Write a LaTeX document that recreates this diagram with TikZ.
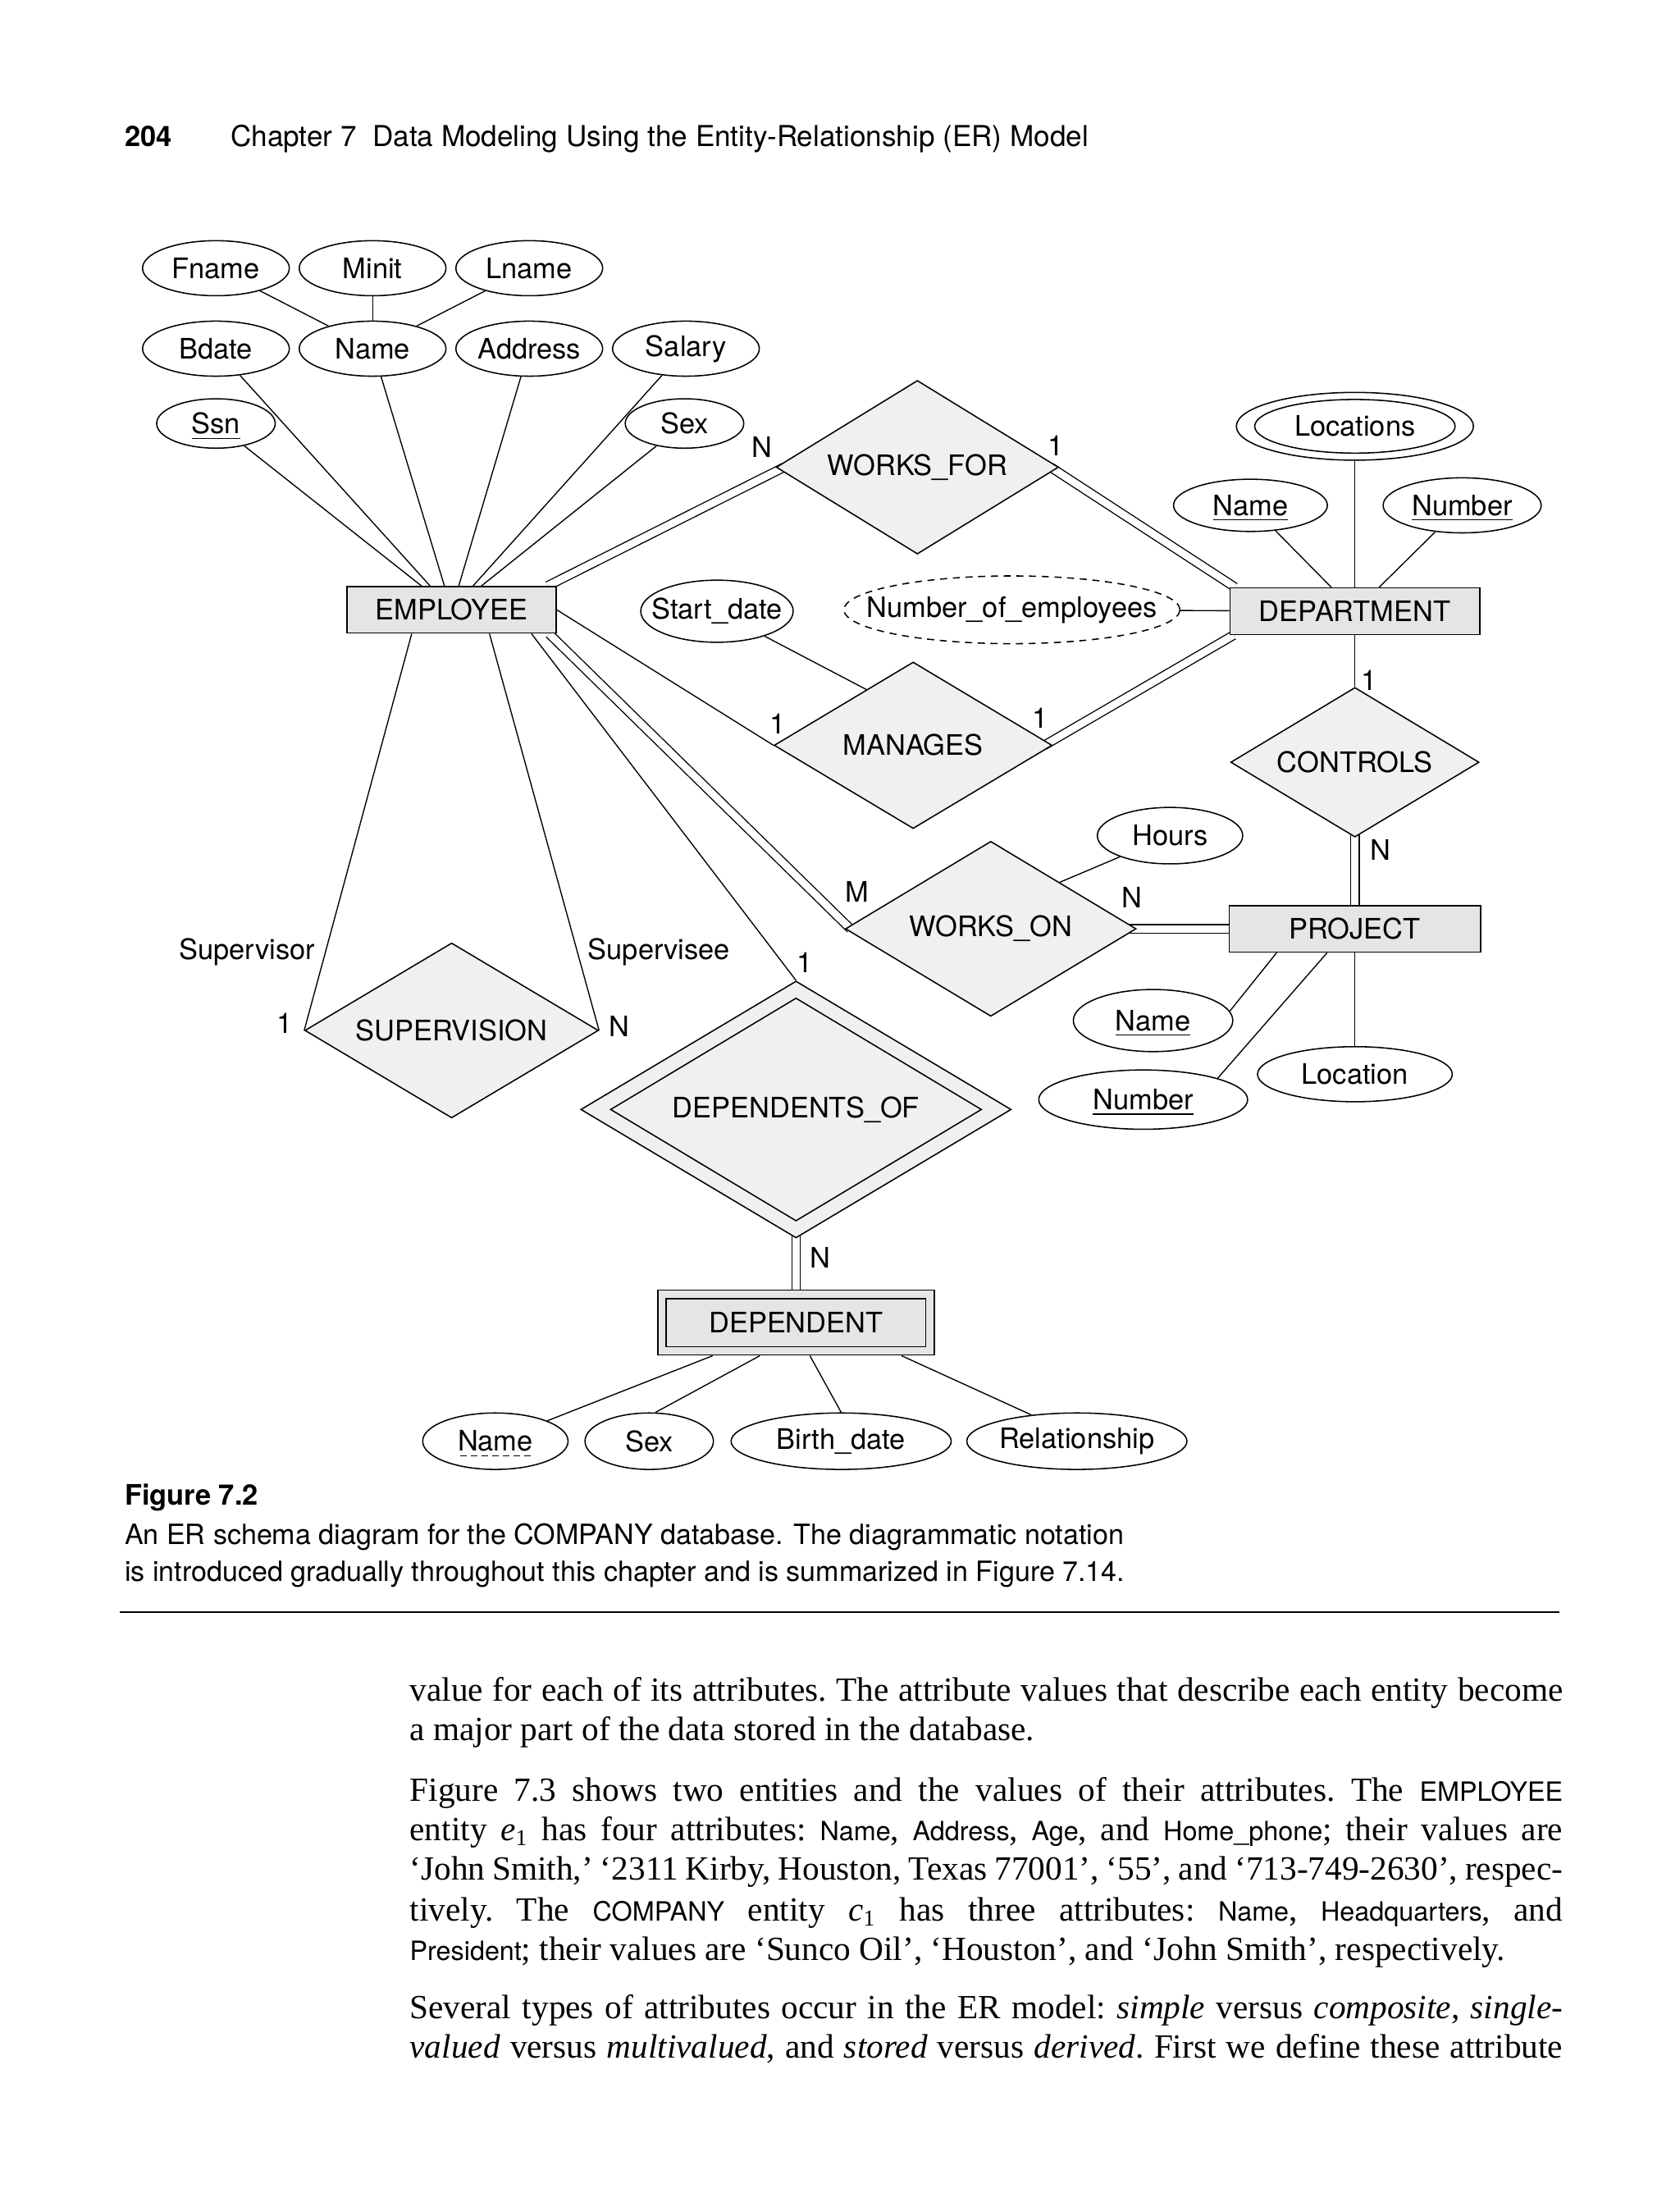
\documentclass[tikz,border=0pt]{standalone}
\usepackage{fontspec}
\setmainfont{Liberation Serif}
\setsansfont{TeX Gyre Heros}
\usetikzlibrary{shapes.geometric}
\usetikzlibrary{calc}
\usetikzlibrary{backgrounds}

\definecolor{entfill}{gray}{0.9}
\definecolor{relfill}{gray}{0.94}
\newcommand{\erfont}{\sffamily\fontsize{10}{12}\selectfont}
\newcommand{\bodyfont}{\rmfamily\fontsize{12}{14}\selectfont\frenchspacing}
\newcommand{\sfw}[1]{{\sffamily\fontsize{9.4}{12}\selectfont #1}}
\newcommand{\jline}[1]{\makebox[408.5pt][s]{#1}}
% key attribute: solid underline, partial key: dashed underline
\newcommand{\pkey}[1]{\sbox0{#1}\rlap{\smash{\raisebox{-1.8pt}{\rule{\wd0}{0.4pt}}}}\usebox0}
\newcommand{\wkey}[1]{\sbox0{#1}\rlap{\smash{\raisebox{-1.8pt}{\hbox to \wd0{\xleaders\hbox{\kern0.7pt\vrule width 2.2pt height 0.4pt depth 0pt\kern0.7pt}\hfill}}}}\usebox0}

\begin{document}
\begin{tikzpicture}[x=0.5pt, y=-0.5pt, line width=0.45pt]
      \tikzset{
        entity/.style={draw, rectangle, fill=entfill, inner sep=0pt, font=\erfont},
        attr/.style={draw, ellipse, fill=white, inner sep=0pt, inner xsep=-12pt, minimum width=52pt, minimum height=19.5pt, font=\erfont},
        rel/.style={draw, diamond, fill=relfill, inner sep=0pt, shape aspect=1.6, font=\erfont},
        lab/.style={inner sep=0pt, font=\erfont},
        txt/.style={inner sep=0pt, anchor=base west},
        line/.style={draw},
        dline/.style={draw, double, double distance=2.6pt},
      }
      \useasboundingbox (0,0) rectangle (1190,1560);

      % running head
      \node [txt, font=\sffamily\bfseries\fontsize{10}{12}\selectfont] (pgno) at (88,104) {204};
      \node [txt, font=\sffamily\fontsize{10.2}{12}\selectfont] (runhead) at (163,104) {Chapter 7\ \ Data Modeling Using the Entity-Relationship (ER) Model};

      % EMPLOYEE
      \node [entity, minimum width=74pt, minimum height=16.5pt] (emp) at (320,432) {EMPLOYEE};
      \node [attr] (fname) at (153,190) {Fname};
      \node [attr, right of=fname, node distance=55.5pt] (minit) {Minit};
      \node [attr, right of=minit, node distance=55.5pt] (lname) {Lname};
      \node [attr, below of=fname, node distance=28.5pt] (bdate) {Bdate};
      \node [attr, below of=minit, node distance=28.5pt] (ename) {Name};
      \node [attr, below of=lname, node distance=28.5pt] (addr) {Address};
      \node [attr, right of=addr, node distance=55.5pt] (salary) {Salary};
      \node [attr, minimum width=42pt, minimum height=17.5pt] (ssn) at (153,300) {\pkey{Ssn}};
      \node [attr, minimum width=42pt, minimum height=17.5pt] (esex) at (485,300) {Sex};

      % DEPARTMENT
      \node [entity, minimum width=88.5pt, minimum height=16.5pt] (dept) at (960,433) {DEPARTMENT};
      \node [attr, minimum width=84pt, minimum height=24pt] (locs) at (960,302) {};
      \node [attr, minimum width=71pt, minimum height=19pt] (locsin) at (960,302) {Locations};
      \node [attr, minimum width=54.5pt, minimum height=18.5pt] (dname) at (886,358) {\pkey{Name}};
      \node [attr, minimum width=56pt, minimum height=19.5pt] (dnum) at (1036,358) {\pkey{Number}};
      \node [attr, dash pattern=on 2.5pt off 2pt, minimum width=119pt, minimum height=24pt] (nemp) at (717,432) {Number\_of\_employees};

      \node [rel, minimum width=100pt, minimum height=61.5pt] (wfor) at (650,331) {WORKS\_FOR};
      \node [rel, minimum width=98.5pt, minimum height=59pt] (mgr) at (647,528) {MANAGES};
      \node [attr, minimum width=54pt, minimum height=22pt] (sdate) at (508,433) {Start\_date};

      % PROJECT
      \node [rel, minimum width=88pt, minimum height=53pt] (ctrl) at (960,540) {CONTROLS};
      \node [entity, minimum width=89pt, minimum height=16.5pt] (proj) at (960,658) {PROJECT};
      \node [rel, minimum width=103pt, minimum height=62pt] (won) at (702,658) {WORKS\_ON};
      \node [attr, minimum width=51.5pt, minimum height=20pt] (hours) at (829,592) {Hours};
      \node [attr, minimum width=56.5pt, minimum height=22pt] (pname) at (817,723) {\pkey{Name}};
      \node [attr, minimum width=74pt, minimum height=21pt] (pnum) at (810,779) {\pkey{Number}};
      \node [attr, minimum width=69pt, minimum height=19.5pt] (ploc) at (960,761) {Location};

      % SUPERVISION, DEPENDENT
      \node [rel, minimum width=104pt, minimum height=62pt] (sup) at (320,730) {SUPERVISION};
      \node [rel, minimum width=152.5pt, minimum height=91pt] (depof) at (564,786) {};
      \node [rel, minimum width=131.5pt, minimum height=79pt] (depofin) at (564,786) {DEPENDENTS\_OF};
      \node [entity, minimum width=98pt, minimum height=23pt] (dep) at (564,937) {};
      \node [entity, minimum width=92pt, minimum height=17pt] (depin) at (564,937) {DEPENDENT};
      \node [attr, minimum width=51.5pt, minimum height=20pt] (dpname) at (351,1021) {\wkey{Name}};
      \node [attr, right of=dpname, node distance=54.5pt, minimum width=45.5pt, minimum height=20pt] (dpsex) {Sex};
      \node [attr, minimum width=78pt, minimum height=20pt] (birth) at (596,1021) {Birth\_date};
      \node [attr, right of=birth, node distance=83.5pt, minimum width=78pt, minimum height=20pt] (relsh) {Relationship};

      % cardinalities and roles
      \node [lab] (cwf1) at (540,317) {N};
      \node [lab] (cwf2) at (748,316) {1};
      \node [lab] (cmg1) at (551,513) {1};
      \node [lab] (cmg2) at (737,509) {1};
      \node [lab] (cct1) at (970,482) {1};
      \node [lab] (cct2) at (978,602) {N};
      \node [lab] (cwo1) at (607,632) {M};
      \node [lab] (cwo2) at (802,636) {N};
      \node [lab] (csu1) at (202,725) {1};
      \node [lab] (csu2) at (439,727) {N};
      \node [lab, anchor=base] (rsup) at (175,680) {Supervisor};
      \node [lab, anchor=base] (rsee) at (467,680) {Supervisee};
      \node [lab] (cdo1) at (570,682) {1};
      \node [lab] (cdo2) at (581,891) {N};

      \begin{pgfonlayer}{background}
      \fill [white] (0,0) rectangle (1190,1560);
      \path [line] (fname)--(ename);
      \path [line] (minit)--(ename);
      \path [line] (lname)--(ename);
      \path [line] (bdate)--(emp);
      \path [line] (ename)--(emp);
      \path [line] (addr)--(emp);
      \path [line] (salary)--(emp);
      \path [line] (ssn)--(emp);
      \path [line] (esex)--(emp);
      \path [line] (locs)--(dept);
      \path [line] (dname)--(dept);
      \path [line] (dnum)--(dept);
      \path [line] (nemp)--(dept);
      \path [line] (sdate)--(mgr.130);
      \path [line] (hours)--(won.34);
      \path [line] (ploc)--(proj);
      \path [line] (pname.7)--($(proj.south west)!.19!(proj.south east)$);
      \path [line] (pnum.16)--($(proj.south west)!.39!(proj.south east)$);
      \path [line] ($(dep.south west)!.2!(dep.south east)$)--(dpname);
      \path [line] ($(dep.south west)!.37!(dep.south east)$)--(dpsex.78);
      \path [line] ($(dep.south west)!.55!(dep.south east)$)--(birth.north);
      \path [line] ($(dep.south west)!.88!(dep.south east)$)--(relsh.150);

      \path [dline] ([xshift=3pt]wfor.west)--([xshift=-3.2pt]emp.north east);
      \path [dline] ([xshift=-3pt]wfor.east)--([xshift=2pt]dept.north west);
      \path [line] (emp.east)--(mgr.west);
      \path [dline] ([xshift=-3pt]mgr.east)--([xshift=1.5pt]dept.south west);
      \path [line] (dept.south)--(ctrl.north);
      \path [dline] (ctrl.center)--(proj);
      \path [dline] ([xshift=-2.7pt]emp.south east)--([xshift=2pt]won.west);
      \path [dline] (won.center)--(proj);
      \path [line] ($(emp.south west)!.31!(emp.south east)$)--(sup.west);
      \path [line] ($(emp.south west)!.68!(emp.south east)$)--(sup.east);
      \path [line] ($(emp.south west)!.88!(emp.south east)$)--(depof.north);
      \path [dline] (depof.center)--(dep);
      \end{pgfonlayer}

      % caption
      \node [txt, font=\sffamily\bfseries\fontsize{10}{12}\selectfont] (figno) at (88,1066) {Figure 7.2};
      \node [txt, font=\sffamily\fontsize{9.9}{12}\selectfont] (cap1) at (88,1094) {An ER schema diagram for the COMPANY database. The diagrammatic notation};
      \node [txt, font=\sffamily\fontsize{9.9}{12}\selectfont] (cap2) at (88,1120) {is introduced gradually throughout this chapter and is summarized in Figure 7.14.};
      \draw [line width=0.6pt] (85,1142)--(1105,1142);

      % body text
      \node [txt, font=\bodyfont] (b1) at (290,1205) {\jline{value for each of its attributes. The attribute values that describe each entity become}};
      \node [txt, font=\bodyfont] (b2) at (290,1233) {a major part of the data stored in the database.};
      \node [txt, font=\bodyfont] (b3) at (290,1276) {\jline{Figure 7.3 shows two entities and the values of their attributes. The \sfw{EMPLOYEE}}};
      \node [txt, font=\bodyfont] (b4) at (290,1304) {\jline{entity \textit{e}\textsubscript{1} has four attributes: \sfw{Name}, \sfw{Address}, \sfw{Age}, and \sfw{Home\_phone}; their values are}};
      \node [txt, font=\bodyfont] (b5) at (290,1332) {\jline{`John Smith,' `2311 Kirby, Houston, Texas 77001', `55', and `713-749-2630', respec-}};
      \node [txt, font=\bodyfont] (b6) at (290,1361) {\jline{tively. The \sfw{COMPANY} entity \textit{c}\textsubscript{1} has three attributes: \sfw{Name}, \sfw{Headquarters}, and}};
      \node [txt, font=\bodyfont] (b7) at (290,1389) {\sfw{President}; their values are `Sunco Oil', `Houston', and `John Smith', respectively.};
      \node [txt, font=\bodyfont] (b8) at (290,1430) {\jline{Several types of attributes occur in the ER model: \textit{simple} versus \textit{composite}, \textit{single-}}};
      \node [txt, font=\bodyfont] (b9) at (290,1458) {\jline{\textit{valued} versus \textit{multivalued}, and \textit{stored} versus \textit{derived}. First we define these attribute}};
\end{tikzpicture}
\end{document}
